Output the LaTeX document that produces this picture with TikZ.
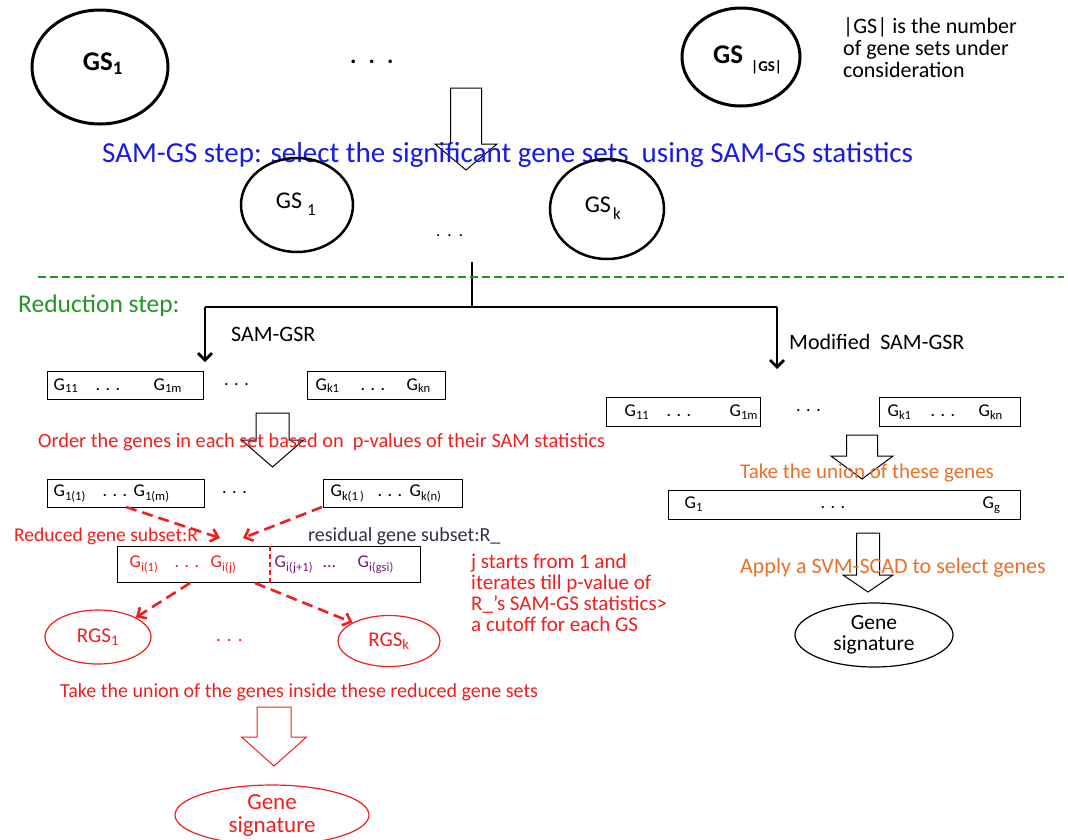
\documentclass[tikz,border=0pt]{standalone}
\usepackage{fontspec}
\setmainfont{Carlito}
\usetikzlibrary{arrows.meta,shapes.geometric}
\definecolor{myred}{RGB}{240,30,30}
\definecolor{myblue}{RGB}{25,25,235}
\definecolor{mygreen}{RGB}{35,150,35}
\definecolor{myorange}{RGB}{232,112,40}
\definecolor{mypurple}{RGB}{115,30,115}
\definecolor{mygray}{RGB}{50,50,70}
\newcommand\gsub[1]{G\textsubscript{#1}}
\newcommand\putat[2]{\rlap{\hspace*{#1pt}#2}}
\newcommand\fs[1]{\fontsize{#1}{#1}\selectfont}
\newcommand\tdots{.\hspace{5.5pt}.\hspace{5.5pt}.}
\newcommand\hollowdown[7]{%
  \draw[#1] ({#2-#4},#3) -- ({#2+#4},#3) -- ({#2+#4},#5) -- ({#2+#6},#5)
    -- (#2,#7) -- ({#2-#6},#5) -- ({#2-#4},#5) -- cycle;}
\begin{document}
\begin{tikzpicture}[x=1pt,y=-1pt,
  txt/.style={inner sep=0pt, anchor=west},
  gbox/.style={draw, line width=1.3pt, rectangle, inner sep=0pt, anchor=north west, font=\fs{18}},
  bigell/.style={ellipse, draw, line width=3pt, inner sep=0pt},
  midell/.style={ellipse, draw, line width=2.5pt, inner sep=0pt},
  redell/.style={ellipse, draw=myred, line width=1.2pt, inner sep=0pt, text=myred},
  thickarr/.style={line width=2.8pt, -{Straight Barb[length=7pt,width=14pt]}},
  redash/.style={myred, line width=2.6pt, dash pattern=on 11pt off 6pt, -{Straight Barb[length=7pt,width=13pt]}},
  hollow/.style={line width=1pt}]
\useasboundingbox (0,0) rectangle (1068,839);

% ---------- top row ----------
\node[bigell, minimum width=136pt, minimum height=114pt] (gsone) at (100,67) {};
\node[font=\fs{27}\bfseries, inner sep=0pt] (gsonet) at (103,64) {GS\textsubscript{1}};
\node[txt, font=\fs{24}\bfseries] (topdots) at (350,62) {.\hspace{12pt}.\hspace{12pt}.};
\node[bigell, minimum width=118pt, minimum height=98pt] (gsall) at (741,57) {};
\node[txt, font=\fs{27}\bfseries] (gsallt) at (713,60) {GS\hspace{8pt}\raisebox{-8pt}{\fs{15}\bfseries |GS|}};
\node[txt, font=\fs{22}, align=left] (note) at (843,48)
  {\fontsize{22}{23.5}\selectfont |GS| is the number\\ of gene sets under\\ consideration};

\hollowdown{hollow}{466}{88}{15.5}{144}{31}{170}
\node[txt, font=\fs{29}, text=myblue] (samgs) at (102,155)
  {SAM-GS step: select the significant gene sets\ \ using SAM-GS statistics};

% ---------- selected gene sets ----------
\node[midell, minimum width=112pt, minimum height=94pt] (gssel1) at (297,205) {};
\node[font=\fs{24}, inner sep=0pt] (gssel1t) at (296,204) {GS\hspace{5pt}\raisebox{-3pt}{\textsubscript{1}}};
\node[txt, font=\fs{17}] (middots) at (436,236) {.\hspace{7pt}.\hspace{7pt}.};
\node[midell, minimum width=114pt, minimum height=100pt] (gsselk) at (607,209) {};
\node[font=\fs{24}, inner sep=0pt] (gsselkt) at (603,208) {GS\hspace{2pt}\raisebox{-3pt}{\textsubscript{k}}};

\coordinate (vtop) at (472,262);
\coordinate (split) at (472,307);
\coordinate (lcorner) at (205,307);
\coordinate (rcorner) at (777,307);
\coordinate (ltip) at (205,362);
\coordinate (rtip) at (777,369);
\draw[line width=2.8pt] (vtop) -- (split);
\draw[mygreen, line width=2.4pt, dash pattern=on 8pt off 4pt] (38,277) coordinate (dashL) -- (1064,277) coordinate (dashR);
\draw[line width=2.8pt] (lcorner) -- (rcorner);
\draw[thickarr] (lcorner) -- (ltip);
\draw[thickarr] (rcorner) -- (rtip);
\node[txt, font=\fs{25.5}, text=mygreen] (redstep) at (18,306) {Reduction step:};
\node[txt, font=\fs{22}] (samgsr) at (231,334) {SAM-GSR};
\node[txt, font=\fs{22}] (modsamgsr) at (789,342) {Modified\ \ SAM-GSR};

% ---------- left branch ----------
\node[gbox, minimum width=156pt, minimum height=28pt] (lb1) at (47,371)
  {\makebox[156pt][l]{\putat{6}{\gsub{11}}\putat{48}{\tdots}\putat{106}{\gsub{1m}}}};
\node[txt, font=\fs{18}] (lbdots) at (224,385) {\tdots};
\node[gbox, minimum width=138pt, minimum height=28pt] (lb2) at (307,371)
  {\makebox[138pt][l]{\putat{8}{\gsub{k1}}\putat{53}{\tdots}\putat{99}{\gsub{kn}}}};

\hollowdown{hollow}{272.5}{413}{16.5}{440}{31}{467}
\node[txt, font=\fs{20.3}, text=myred] (ordertxt) at (38,442)
  {Order the genes in each set based on\ \ p-values of their SAM statistics};

\node[gbox, minimum width=157pt, minimum height=28pt] (ob1) at (47,479)
  {\makebox[157pt][l]{\putat{6}{\gsub{1(1)}}\putat{55}{\tdots}\putat{86}{\gsub{1(m)}}}};
\node[txt, font=\fs{18}] (obdots) at (222,493) {\tdots};
\node[gbox, minimum width=139pt, minimum height=28pt] (ob2) at (323,479)
  {\makebox[139pt][l]{\putat{7}{\gsub{k(1\,)}}\putat{54}{\tdots}\putat{86}{\gsub{k(n)}}}};

\node[txt, font=\fs{19.5}, text=myred] (redlab) at (14,536) {Reduced gene subset:R};
\node[txt, font=\fs{20}, text=mygray] (reslab) at (308,536) {residual gene subset:R\_};

\node[gbox, minimum width=303pt, minimum height=36pt] (mb) at (117,546)
  {\makebox[303pt][l]{\color{myred}\putat{12}{\gsub{i(1)}}\putat{57}{\tdots}\putat{93}{\gsub{i(j)}}%
   \color{mypurple}\putat{157}{\gsub{i(j+1)}}\putat{205}{...}\putat{240}{\gsub{i(gsi)}}}};
\draw[myred, line width=2.2pt, dash pattern=on 5pt off 3pt] (270,546) coordinate (cutT) -- (270,583) coordinate (cutB);

\coordinate (a1s) at (126,507);
\coordinate (a1e) at (220,538);
\coordinate (a2s) at (322,507);
\coordinate (a2e) at (243,538);
\draw[redash] (a1s) -- (a1e);
\draw[redash] (a2s) -- (a2e);

\node[redell, minimum width=106pt, minimum height=54pt, font=\fs{21}] (rgs1) at (98,637) {RGS\textsubscript{1}};
\node[txt, font=\fs{19}, text=myred] (rgsdots) at (216,640) {.\hspace{6pt}.\hspace{6pt}.};
\node[redell, minimum width=102pt, minimum height=51pt, font=\fs{21}] (rgsk) at (389,641) {RGS\textsubscript{k}};
\coordinate (a3s) at (190,583);
\coordinate (a4s) at (255,583);
\draw[redash] (a3s) -- (rgs1.north east);
\draw[redash] (a4s) -- (rgsk.north west);

\node[txt, font=\fs{21}, text=myred, align=left] (jtext) at (471,593)
  {\fontsize{21}{23.7}\selectfont j starts from 1 and\\ iterates till p-value of\\ R\_’s SAM-GS statistics>\\ a cutoff for each GS};

\node[txt, font=\fs{20}, text=myred] (uniontxt) at (60,692)
  {Take the union of the genes inside these reduced gene sets};
\hollowdown{hollow, myred}{274}{707}{17}{737}{32.5}{766}
\node[redell, minimum width=194pt, minimum height=60pt, font=\fs{23}, align=center] (genesigL) at (272,815)
  {\fontsize{23}{25}\selectfont Gene\\ signature};

% ---------- right branch ----------
\node[gbox, minimum width=154pt, minimum height=29pt] (rb1) at (606,397)
  {\makebox[154pt][l]{\putat{18}{\gsub{11}}\putat{60}{\tdots}\putat{123}{\gsub{1m}}}};
\node[txt, font=\fs{18}] (rbdots) at (796,411) {\tdots};
\node[gbox, minimum width=141pt, minimum height=29pt] (rb2) at (879,397)
  {\makebox[141pt][l]{\putat{8}{\gsub{k1}}\putat{51}{\tdots}\putat{99}{\gsub{kn}}}};
\hollowdown{hollow}{862}{435}{15.5}{456}{31}{479}
\node[txt, font=\fs{21}, text=myorange] (union2) at (740,473) {Take the union of these genes};
\node[gbox, minimum width=352pt, minimum height=29pt] (ub) at (668,490)
  {\makebox[352pt][l]{\putat{16}{\gsub{1}}\putat{152}{\tdots}\putat{314}{\gsub{g}}}};
\hollowdown{hollow}{868}{533}{11.5}{575}{25}{592}
\node[txt, font=\fs{22}, text=myorange] (applytxt) at (740,568) {Apply a SVM-SCAD to select genes};
\node[ellipse, draw, line width=1.2pt, inner sep=0pt, minimum width=158pt, minimum height=64pt, font=\fs{21.5}, align=center] (genesigR) at (874,635)
  {\fontsize{21.5}{22}\selectfont Gene\\ signature};
\end{tikzpicture}
\end{document}
